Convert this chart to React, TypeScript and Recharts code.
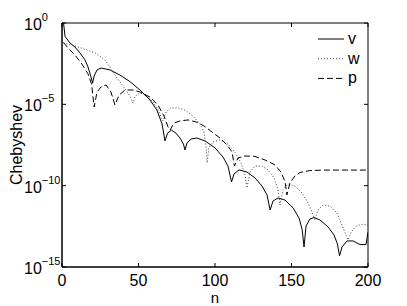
import React from "react";
import { LineChart, Line, XAxis, YAxis, ReferenceArea } from "recharts";

// n = index, y = Chebyshev coefficient magnitude
const vData = [
  { n: 1, y: 1 }, { n: 2, y: 0.15 }, { n: 5.2, y: 0.059 }, { n: 8.5, y: 0.033 },
  { n: 11.8, y: 0.0144 }, { n: 15, y: 5.4e-3 }, { n: 17, y: 2.0e-3 }, { n: 18.6, y: 6.3e-4 },
  { n: 20, y: 2.0e-4 }, { n: 21, y: 5.5e-4 }, { n: 22.9, y: 1.3e-3 }, { n: 25.5, y: 1.7e-3 },
  { n: 31.4, y: 1.3e-3 }, { n: 37.9, y: 6.3e-4 }, { n: 44.4, y: 2.5e-4 }, { n: 51, y: 7.6e-5 },
  { n: 57.5, y: 1.85e-5 }, { n: 62, y: 4.5e-6 }, { n: 65.4, y: 6.2e-7 }, { n: 67.3, y: 5.6e-8 },
  { n: 69, y: 1.7e-7 }, { n: 71.6, y: 2.6e-7 }, { n: 74.5, y: 1.7e-7 }, { n: 77.1, y: 8.5e-8 },
  { n: 79.4, y: 3.6e-8 }, { n: 80.4, y: 1.56e-8 }, { n: 81.7, y: 4.2e-8 }, { n: 84.3, y: 7.4e-8 },
  { n: 88.2, y: 8.5e-8 }, { n: 93.5, y: 5.6e-8 }, { n: 100, y: 2.1e-8 }, { n: 105.2, y: 5.8e-9 },
  { n: 108.5, y: 1.6e-9 }, { n: 110.8, y: 1.7e-10 }, { n: 112.4, y: 5.2e-10 }, { n: 115.7, y: 9.3e-10 },
  { n: 120.9, y: 6.9e-10 }, { n: 126.1, y: 3.0e-10 }, { n: 130.7, y: 9.5e-11 }, { n: 134, y: 2.7e-11 },
  { n: 136, y: 3.2e-12 }, { n: 138, y: 1.15e-11 }, { n: 141.2, y: 1.75e-11 }, { n: 145.8, y: 1.3e-11 },
  { n: 151, y: 4.3e-12 }, { n: 155, y: 1.0e-12 }, { n: 157, y: 1.9e-13 }, { n: 158.2, y: 1.7e-14 },
  { n: 159.5, y: 3.3e-13 }, { n: 162, y: 8.9e-13 }, { n: 164.7, y: 1.1e-12 }, { n: 168.6, y: 7.8e-13 },
  { n: 173.9, y: 2.9e-13 }, { n: 177.8, y: 9.3e-14 }, { n: 180, y: 2.6e-14 }, { n: 181.4, y: 4.8e-15 },
  { n: 183, y: 1.7e-14 }, { n: 186.3, y: 4.0e-14 }, { n: 190.2, y: 4.0e-14 }, { n: 194.8, y: 2.4e-14 },
  { n: 198.7, y: 2.4e-14 }, { n: 200, y: 1.4e-13 },
];

const wData = [
  { n: 1, y: 0.06 }, { n: 11.8, y: 0.031 }, { n: 21.6, y: 0.0144 }, { n: 28.1, y: 5.4e-3 },
  { n: 33.3, y: 9.8e-4 }, { n: 37.9, y: 2.3e-4 }, { n: 41.8, y: 7.6e-5 }, { n: 44.4, y: 3.2e-5 },
  { n: 46.4, y: 1.2e-5 }, { n: 47.7, y: 3.2e-5 }, { n: 51, y: 5.0e-5 }, { n: 55.6, y: 3.2e-5 },
  { n: 59.5, y: 1.4e-5 }, { n: 62.7, y: 5.1e-6 }, { n: 64.7, y: 1.7e-6 }, { n: 66, y: 9.5e-7 },
  { n: 68, y: 3.4e-6 }, { n: 71.2, y: 6.0e-6 }, { n: 75.8, y: 6.0e-6 }, { n: 80.4, y: 4.5e-6 },
  { n: 85.6, y: 1.9e-6 }, { n: 90.2, y: 6.2e-7 }, { n: 92.8, y: 2.0e-7 }, { n: 94.4, y: 1.6e-8 },
  { n: 94.8, y: 2.5e-9 }, { n: 96, y: 2.1e-8 }, { n: 98.7, y: 4.9e-8 }, { n: 103.3, y: 6.5e-8 },
  { n: 108.5, y: 3.6e-8 }, { n: 113, y: 1.17e-8 }, { n: 117, y: 2.5e-9 }, { n: 119.6, y: 4.6e-10 },
  { n: 120.9, y: 7.2e-11 }, { n: 122.9, y: 6.9e-10 }, { n: 126, y: 1.6e-9 }, { n: 130.7, y: 1.6e-9 },
  { n: 134.6, y: 9.3e-10 }, { n: 138.6, y: 3.0e-10 }, { n: 141.2, y: 5.5e-11 }, { n: 142.5, y: 6.5e-12 },
  { n: 144.4, y: 5.5e-11 }, { n: 147.7, y: 1.26e-10 }, { n: 152.3, y: 9.5e-11 }, { n: 156.9, y: 3.5e-11 },
  { n: 160.8, y: 8.7e-12 }, { n: 163.4, y: 2.4e-12 }, { n: 165.4, y: 7.8e-13 }, { n: 167.3, y: 3.2e-12 },
  { n: 170.6, y: 6.5e-12 }, { n: 175.2, y: 5.6e-12 }, { n: 179.7, y: 2.1e-12 }, { n: 183, y: 3.8e-13 },
  { n: 185.6, y: 9.3e-14 }, { n: 187, y: 4.6e-14 }, { n: 189, y: 1.4e-13 }, { n: 192.2, y: 3.3e-13 },
  { n: 196, y: 4.2e-13 }, { n: 200, y: 3.8e-13 },
];

const pData = [
  { n: 1, y: 0.063 }, { n: 3.9, y: 0.029 }, { n: 8.5, y: 0.0107 }, { n: 13, y: 3.0e-3 },
  { n: 17, y: 7.4e-4 }, { n: 19.3, y: 1.8e-4 }, { n: 21, y: 6.9e-6 }, { n: 22.9, y: 5.7e-5 },
  { n: 25.5, y: 1.17e-4 }, { n: 28.8, y: 1.55e-4 }, { n: 32, y: 5.7e-5 }, { n: 34.6, y: 9.1e-6 },
  { n: 37.3, y: 3.7e-5 }, { n: 41.2, y: 7.6e-5 }, { n: 46.4, y: 7.6e-5 }, { n: 51, y: 5.7e-5 },
  { n: 57.5, y: 2.8e-5 }, { n: 62.7, y: 9.1e-6 }, { n: 66.7, y: 1.9e-6 }, { n: 69.3, y: 4.1e-7 },
  { n: 70.6, y: 2.6e-7 }, { n: 73.2, y: 7.1e-7 }, { n: 77.1, y: 9.5e-7 }, { n: 82.4, y: 1.1e-6 },
  { n: 87.6, y: 8.3e-7 }, { n: 92.8, y: 4.7e-7 }, { n: 98, y: 2.0e-7 }, { n: 103.3, y: 8.5e-8 },
  { n: 107.8, y: 3.2e-8 }, { n: 111.1, y: 1.2e-8 }, { n: 112.7, y: 1.6e-9 }, { n: 115, y: 5.0e-9 },
  { n: 119.6, y: 6.7e-9 }, { n: 126.1, y: 6.3e-9 }, { n: 132.7, y: 3.8e-9 }, { n: 139.2, y: 1.9e-9 },
  { n: 143.1, y: 6.9e-10 }, { n: 145.8, y: 1.7e-10 }, { n: 147, y: 2.7e-11 }, { n: 149, y: 1.5e-10 },
  { n: 152.3, y: 4.0e-10 }, { n: 155.6, y: 6.5e-10 }, { n: 162, y: 8.5e-10 }, { n: 171.9, y: 9.1e-10 },
  { n: 200, y: 9.1e-10 },
];

const xTicks = [0, 50, 100, 150, 200];
const yTicks = [1e-15, 1e-10, 1e-5, 1];
const yExponents = ["\u221215", "\u221210", "\u22125", "0"];

const series = [
  { name: "v", data: vData, dash: undefined, color: "#000" },
  { name: "w", data: wData, dash: "1 2", color: "#444" },
  { name: "p", data: pData, dash: "6 3", color: "#000" },
];

const FONT = "'Liberation Sans', Arial, Helvetica, sans-serif";
const W = 407;
const H = 306;
const margin = { top: 23, right: 39, left: 12, bottom: 9 };
const Y_AXIS_W = 50;
const X_AXIS_H = 30;
const PLOT_TOP = margin.top;
const PLOT_BOTTOM = H - margin.bottom - X_AXIS_H;
const PLOT_LEFT = margin.left + Y_AXIS_W;
const PLOT_RIGHT = W - margin.right;

function XTick({ x, payload }: any) {
  return (
    <g>
      <line x1={x} x2={x} y1={PLOT_BOTTOM} y2={PLOT_BOTTOM - 4} stroke="#000" />
      <line x1={x} x2={x} y1={PLOT_TOP} y2={PLOT_TOP + 4} stroke="#000" />
      <text x={x} y={PLOT_BOTTOM + 19} textAnchor="middle" fontSize={16} fontFamily={FONT} fill="#000">
        {payload.value}
      </text>
    </g>
  );
}

function YTick({ y, payload, index }: any) {
  const exp = yExponents[yTicks.indexOf(payload.value)] ?? yExponents[index];
  return (
    <g>
      <line x1={PLOT_LEFT} x2={PLOT_LEFT + 4} y1={y} y2={y} stroke="#000" />
      <line x1={PLOT_RIGHT} x2={PLOT_RIGHT - 4} y1={y} y2={y} stroke="#000" />
      <text x={24} y={y + 7} fontSize={16} fontFamily={FONT} fill="#000">
        10
        <tspan dy={-9} fontSize={11}>{exp}</tspan>
      </text>
    </g>
  );
}

export default function App() {
  return (
    <div style={{ position: "absolute", left: 0, top: 0, background: "#fff" }}>
      <LineChart width={W} height={H} margin={margin}>
        <XAxis
          dataKey="n"
          type="number"
          domain={[0, 200]}
          ticks={xTicks}
          allowDataOverflow
          height={X_AXIS_H}
          axisLine={{ stroke: "#000" }}
          tickLine={false}
          tick={<XTick />}
          interval={0}
        />
        <YAxis
          dataKey="y"
          type="number"
          scale="log"
          domain={[1e-15, 1]}
          ticks={yTicks}
          allowDataOverflow
          width={Y_AXIS_W}
          axisLine={{ stroke: "#000" }}
          tickLine={false}
          tick={<YTick />}
          interval={0}
        />
        <ReferenceArea x1={0} x2={200} y1={1e-15} y2={1} stroke="#000" strokeOpacity={1} fill="none" />
        {series.map((s) => (
          <Line
            key={s.name}
            data={s.data}
            dataKey="y"
            name={s.name}
            type="linear"
            stroke={s.color}
            strokeWidth={1}
            strokeDasharray={s.dash}
            dot={false}
            activeDot={false}
            isAnimationActive={false}
          />
        ))}
        {series.map((s, i) => (
          <g key={"lg" + s.name}>
            <line x1={318} x2={344} y1={39 + i * 19.7} y2={39 + i * 19.7} stroke={s.color} strokeDasharray={s.dash} />
            <text x={348} y={44 + i * 19.7} fontSize={16} fontFamily={FONT} fill="#000">
              {s.name}
            </text>
          </g>
        ))}
        <text
          x={22}
          y={(PLOT_TOP + PLOT_BOTTOM) / 2}
          transform={`rotate(-90 22 ${(PLOT_TOP + PLOT_BOTTOM) / 2})`}
          textAnchor="middle"
          fontSize={16}
          fontFamily={FONT}
          fill="#000"
        >
          Chebyshev
        </text>
        <text x={(PLOT_LEFT + PLOT_RIGHT) / 2} y={303} textAnchor="middle" fontSize={15} fontFamily={FONT} fill="#000">
          n
        </text>
      </LineChart>
    </div>
  );
}
